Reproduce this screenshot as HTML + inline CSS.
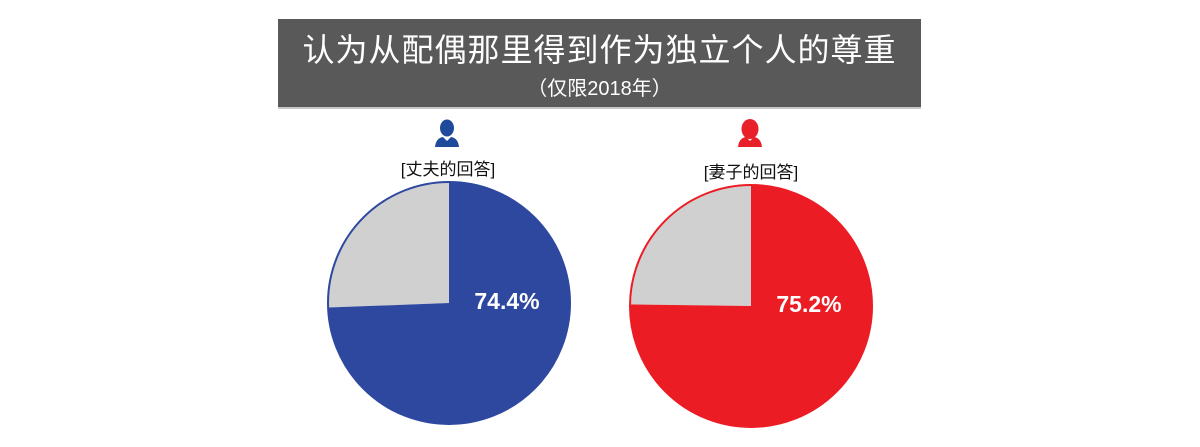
<!DOCTYPE html>
<html><head><meta charset="utf-8"><style>
body{margin:0;width:1200px;height:447px;background:#fff;position:relative;overflow:hidden;font-family:"Liberation Sans","Noto Sans CJK SC",sans-serif}
#hdr{position:absolute;left:278px;top:19px;width:643px;height:88px;background:#595959;border-bottom:2px solid #c8c8c8;color:#fff;text-align:center}
#t1{position:absolute;left:0;right:0;top:12px;font-size:32px;line-height:38px;letter-spacing:1px}
#t2{position:absolute;left:0;right:0;top:58px;font-size:20px;line-height:24px}
.lbl{position:absolute;font-size:17px;color:#111;width:200px;text-align:center}
</style></head><body>
<div id="hdr">
<div id="t1">认为从配偶那里得到作为独立个人的尊重</div>
<div id="t2">（仅限2018年）</div>
</div>
<svg width="1200" height="447" style="position:absolute;left:0;top:0" id="chart">
<g fill="#1f4a9c">
<ellipse cx="447" cy="128" rx="7" ry="8.5"/>
<path d="M435 147 Q436 138 443 137 L447 141 L451 137 Q458 138 459 147 Z"/>
</g>
<g fill="#e8202a">
<ellipse cx="750" cy="129" rx="8.5" ry="10"/>
<path d="M738 147 Q739 138 746 137 L750 141 L754 137 Q761 138 762 147 Z"/>
</g>
</svg>
<div class="lbl" style="left:348px;top:155px">[丈夫的回答]</div>
<div class="lbl" style="left:651px;top:158px">[妻子的回答]</div>
<script>
const groups=["丈夫","妻子"];
const values=[74.4,75.2];
const labels=["74.4%","75.2%"];
const colors=["#2e48a0","#ec1c24"];
const centers=[[449,303],[751,306]];
const R=121;
const svg=document.getElementById('chart');
const NS="http://www.w3.org/2000/svg";
function pt(cx,cy,frac){const a=frac*2*Math.PI-Math.PI/2;return [cx+R*Math.cos(a),cy+R*Math.sin(a)];}
function arc(cx,cy,f0,f1){const p0=pt(cx,cy,f0),p1=pt(cx,cy,f1);const large=(f1-f0)>0.5?1:0;
return `M${cx},${cy} L${p0[0]},${p0[1]} A${R},${R} 0 ${large} 1 ${p1[0]},${p1[1]} Z`;}
values.forEach((v,i)=>{
const [cx,cy]=centers[i];const f=v/100;
const bg=document.createElementNS(NS,'path');
bg.setAttribute('d',arc(cx,cy,f,1));
bg.setAttribute('fill','#d0d0d0');


svg.appendChild(bg);
const s=document.createElementNS(NS,'path');
s.setAttribute('d',arc(cx,cy,0,f));
s.setAttribute('fill',colors[i]);


svg.appendChild(s);
const ring=document.createElementNS(NS,'circle');
ring.setAttribute('cx',cx);ring.setAttribute('cy',cy);ring.setAttribute('r',R);
ring.setAttribute('fill','none');ring.setAttribute('stroke',colors[i]);ring.setAttribute('stroke-width','2');


svg.appendChild(ring);
const t=document.createElementNS(NS,'text');
t.setAttribute('x',cx+58);t.setAttribute('y',cy+6);
t.setAttribute('text-anchor','middle');t.setAttribute('fill','#fff');
t.setAttribute('font-size','23');t.setAttribute('font-weight','bold');
t.setAttribute('font-family','"Liberation Sans",sans-serif');
t.textContent=labels[i];


svg.appendChild(t);
});
</script>
</body></html>
